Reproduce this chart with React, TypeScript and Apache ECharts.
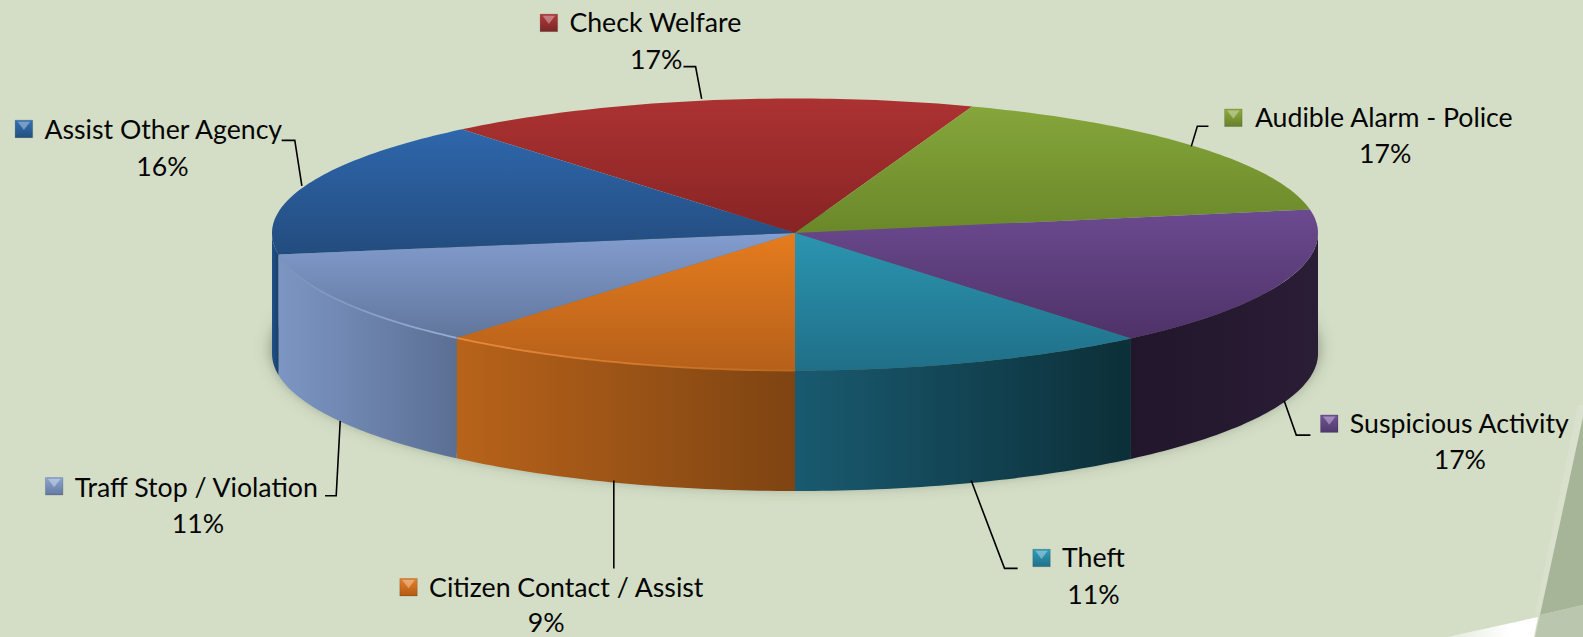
import React, { useEffect, useRef } from "react";
import * as echarts from "echarts";

const categories = ["Check Welfare", "Audible Alarm - Police", "Suspicious Activity", "Theft", "Citizen Contact / Assist", "Traff Stop / Violation", "Assist Other Agency"];
const percentLabels = ["17%", "17%", "17%", "11%", "9%", "11%", "16%"];
// slice shares as drawn in the picture
const sliceShares = [16.5, 16.7, 16.7, 11.1, 11.2, 11.3, 16.5];

const W = 1583, H = 637, S = 1583 / 1568;
const CX = 795, CY = 233, RX = 523, RY_UP = 134.5, RY_DOWN = 137.5, DEPTH = 120.5;
const START_DEG = -39.6;
const FONT = "Lato";
const FONT_SIZE = 26.7;

const topColors = [
  ["#AC3232", "#882424"], ["#85A63B", "#6A8829"], ["#6B4A8F", "#4E3268"], ["#2B95B0", "#206F88"],
  ["#E57C1E", "#B5601A"], ["#829DCF", "#61769C"], ["#2E67AC", "#234C7E"],
];
const wallColors = [
  ["#7A2020", "#7A2020"], ["#5C7826", "#5C7826"], ["#2A1D36", "#21162B"], ["#195A70", "#0C2F38"],
  ["#B8631A", "#7E4412"], ["#7C96C3", "#5B6F94"], ["#1F5189", "#1A4069"],
];
const rimColors = [null, null, null, null, ["#EE9040", "#C06A1E"], ["#9CB5DE", "#7A90B8"], null];

// layout in the 1568-wide coordinates of the reference view
const labelLayout = [
  { mx: 535, my: 14, tx: 564, ty: 22, px: 650, py: 58, line: [[677, 66], [689, 66], [695, 98]] },
  { mx: 1213, my: 108, tx: 1243, ty: 116, px: 1372, py: 152, line: [[1197, 125], [1186, 125], [1180, 145]] },
  { mx: 1308, my: 411, tx: 1337, ty: 419, px: 1446, py: 455, line: [[1298, 431], [1284, 431], [1272, 397]] },
  { mx: 1023, my: 544, tx: 1052, ty: 552, px: 1083, py: 588, line: [[1008, 563], [995, 563], [962, 476]] },
  { mx: 396, my: 573, tx: 425, ty: 581, px: 541, py: 616, line: [[608, 563], [608, 476]] },
  { mx: 45, my: 473, tx: 74, ty: 482, px: 196, py: 518, line: [[322, 491], [333, 491], [337, 417]] },
  { mx: 15, my: 119, tx: 44, ty: 128, px: 161, py: 164, line: [[279, 139], [292, 139], [299, 184]] },
];
const markerColors = [
  ["#B23A3A", "#7A2626"], ["#8EAB3E", "#67802C"], ["#74549A", "#4E3A6A"], ["#2F9DBA", "#22708A"],
  ["#E8802A", "#B25A14"], ["#8AA6D4", "#64799F"], ["#3470B4", "#25507F"],
];

const rad = (d: number) => (d * Math.PI) / 180;
const rimPoint = (deg: number, drop = 0): number[] => {
  const c = Math.cos(rad(deg));
  return [CX + RX * Math.sin(rad(deg)), CY + drop - (c > 0 ? RY_UP : RY_DOWN) * c];
};
const arc = (from: number, to: number, drop = 0) => {
  const pts: number[][] = [];
  const n = Math.max(2, Math.ceil(Math.abs(to - from)));
  for (let i = 0; i <= n; i++) pts.push(rimPoint(from + ((to - from) * i) / n, drop));
  return pts;
};
const linear = (x: number, y: number, x2: number, y2: number, c: string[]) => ({
  type: "linear", x, y, x2, y2, global: true,
  colorStops: [{ offset: 0, color: c[0] }, { offset: 1, color: c[1] }],
});

const total = sliceShares.reduce((a, b) => a + b, 0);
const sliceAngles = (i: number) => {
  const before = sliceShares.slice(0, i).reduce((a, b) => a + b, 0);
  const a0 = START_DEG + (before / total) * 360;
  return [a0, a0 + (sliceShares[i] / total) * 360];
};

const renderSlice = (params: any) => {
  const i = params.dataIndex;
  const [a0, a1] = sliceAngles(i);
  const children: any[] = [];
  const w0 = Math.max(a0, 90), w1 = Math.min(a1, 270);
  if (w1 > w0) {
    const upper = arc(w0, w1);
    const lower = arc(w0, w1, DEPTH).reverse();
    const xs = upper.map((p) => p[0]);
    const xMin = Math.min(...xs), xMax = Math.max(...xs);
    const fromX = i === 2 ? xMax : xMin, toX = i === 2 ? xMin : xMax;
    children.push({
      type: "polygon",
      shape: { points: [...upper, ...lower] },
      style: { fill: linear(fromX, 0, toX, 0, wallColors[i]), stroke: "none" },
    });
  }
  const ys = arc(a0, a1).map((p) => p[1]).concat(CY);
  children.push({
    type: "polygon",
    shape: { points: [[CX, CY], ...arc(a0, a1)] },
    style: { fill: linear(0, Math.min(...ys), 0, Math.max(...ys), topColors[i]), stroke: "none" },
  });
  const rim = rimColors[i];
  if (rim) {
    const pts = arc(a0, a1);
    const xs = pts.map((p) => p[0]);
    children.push({
      type: "polyline",
      shape: { points: pts },
      style: { fill: "none", stroke: linear(Math.min(...xs), 0, Math.max(...xs), 0, i === 4 ? rim : rim.slice().reverse()), lineWidth: 1.8, opacity: 0.9 },
    });
  }
  return { type: "group", children };
};

const labelGraphics = (): any[] => {
  const out: any[] = [];
  categories.forEach((name, i) => {
    const l = labelLayout[i];
    const mx = l.mx * S, my = l.my * S, m = 17.5;
    out.push({
      type: "polyline", z: 5,
      shape: { points: l.line.map((p) => [p[0] * S, p[1] * S]) },
      style: { fill: "none", stroke: "#000", lineWidth: 1.6 },
    });
    out.push({
      type: "rect", z: 5, shape: { x: mx, y: my, width: m, height: m },
      style: { fill: linear(0, my, 0, my + m, markerColors[i]), stroke: "rgba(0,0,0,0.15)", lineWidth: 1 },
    });
    out.push({
      type: "polygon", z: 6,
      shape: { points: [[mx + 2.5, my + 1.5], [mx + m - 2.5, my + 1.5], [mx + m / 2, my + m / 2 + 1]] },
      style: { fill: "rgba(255,255,255,0.35)" },
    });
    out.push({
      type: "text", z: 5, x: l.tx * S, y: l.ty * S,
      style: { text: name, fill: "#050505", font: `${FONT_SIZE}px ${FONT}`, textAlign: "left", textVerticalAlign: "middle" },
    });
    out.push({
      type: "text", z: 5, x: l.px * S, y: l.py * S,
      style: { text: percentLabels[i], fill: "#050505", font: `${FONT_SIZE}px ${FONT}`, textAlign: "center", textVerticalAlign: "middle" },
    });
  });
  return out;
};

const decoration: any[] = [
  { type: "polygon", z: 0, shape: { points: [[1578, 405], [1535, 614], [1540, 615], [1583, 417], [1583, 405]] }, style: { fill: "#D9E1CE" } },
  { type: "polygon", z: 0, shape: { points: [[1583, 417], [1540, 615], [1583, 605]] }, style: { fill: "#A6B497" } },
  { type: "polygon", z: 0, shape: { points: [[1540, 615], [1583, 605], [1583, 637], [1535, 637]] }, style: { fill: "#BAC6AE" } },
  {
    type: "polygon", z: 0,
    shape: { points: [[1447, 637], [1538, 617], [1534, 637]] },
    style: { fill: linear(1447, 0, 1510, 0, ["#E4EADB", "#FFFFFF"]) },
  },
  {
    type: "ellipse", z: 0,
    shape: { cx: CX, cy: CY + DEPTH - 5, rx: RX, ry: RY_DOWN },
    style: { fill: "rgba(95,104,88,0.75)", shadowBlur: 16, shadowColor: "rgba(70,80,60,0.8)" },
  },
];

export default function App() {
  const ref = useRef<HTMLDivElement>(null);
  useEffect(() => {
    document.body.style.margin = "0";
    const chart = echarts.init(ref.current!, null, { renderer: "svg" });
    chart.setOption({
      animation: false,
      backgroundColor: "#D4DEC6",
      graphic: { elements: [...decoration, ...labelGraphics()] },
      series: [{
        type: "custom",
        coordinateSystem: "none",
        z: 3,
        renderItem: renderSlice,
        data: sliceShares.map((v, i) => ({ name: categories[i], value: v })),
      }],
    });
    return () => chart.dispose();
  }, []);
  return <div ref={ref} style={{ width: W, height: H, position: "absolute", left: 0, top: 0 }} />;
}
